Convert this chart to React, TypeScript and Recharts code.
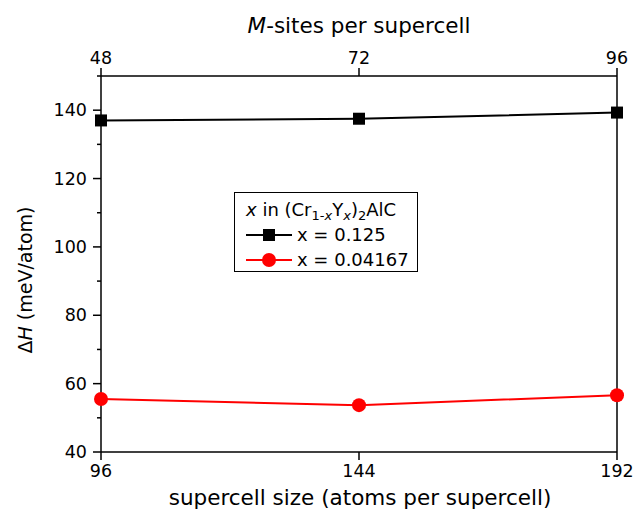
import { Label, Legend, Line, LineChart, XAxis, YAxis } from "recharts";

const atomsPerCell = [96, 144, 192];
const mSites = [48, 72, 96];
const dHx0125 = [137.0, 137.5, 139.3];
const dHx004167 = [55.5, 53.7, 56.6];
const yTicks = [40, 50, 60, 70, 80, 90, 100, 110, 120, 130, 140, 150];

const data = atomsPerCell.map((atoms, i) => ({
  atoms,
  msites: mSites[i],
  a: dHx0125[i],
  b: dHx004167[i],
}));

const FONT = "DejaVu Sans";

const LeftTick = (props: any) => {
  const { x, y, payload } = props;
  const major = payload.value % 20 === 0;
  return (
    <g>
      <line x1={x} x2={x - (major ? 8 : 4)} y1={y} y2={y} stroke="#000" strokeWidth={1.5} />
      {major && (
        <text x={x - 14} y={y} dy={6} textAnchor="end" fontSize={17.5} fontFamily={FONT} fill="#000">
          {payload.value}
        </text>
      )}
    </g>
  );
};

const RightTick = (props: any) => {
  const { x, y, payload } = props;
  const major = payload.value % 20 === 0;
  return <line x1={x} x2={x - (major ? 8 : 4)} y1={y} y2={y} stroke="#000" strokeWidth={1.5} />;
};

const BottomTick = (props: any) => {
  const { x, y, payload } = props;
  return (
    <g>
      <line x1={x} x2={x} y1={y} y2={y + 8} stroke="#000" strokeWidth={1.5} />
      <text x={x} y={y + 25} textAnchor="middle" fontSize={17.5} fontFamily={FONT} fill="#000">
        {payload.value}
      </text>
    </g>
  );
};

const TopTick = (props: any) => {
  const { x, y, payload } = props;
  return (
    <g>
      <line x1={x} x2={x} y1={y} y2={y - 8} stroke="#000" strokeWidth={1.5} />
      <text x={x} y={y - 12} textAnchor="middle" fontSize={17.5} fontFamily={FONT} fill="#000">
        {payload.value}
      </text>
    </g>
  );
};

const SquareDot = (props: any) => {
  const { cx, cy } = props;
  if (cx == null || cy == null) return null;
  return <rect x={cx - 6} y={cy - 6} width={12} height={12} fill="#000" />;
};

const CircleDot = (props: any) => {
  const { cx, cy } = props;
  if (cx == null || cy == null) return null;
  return <circle cx={cx} cy={cy} r={7} fill="#ff0000" />;
};

const subStyle = { fontSize: 13, lineHeight: 0, verticalAlign: "-4px" };

const LegendBox = (props: any) => {
  const { payload } = props;
  return (
    <div
      style={{
        boxSizing: "border-box",
        border: "1.5px solid #000",
        background: "#fff",
        padding: "4px 0 0 11px",
        fontFamily: FONT,
        fontSize: 18,
        lineHeight: "25px",
        color: "#000",
        width: 184,
        height: 80,
        textAlign: "left",
      }}
    >
      <div style={{ whiteSpace: "nowrap" }}>
        <i>x</i> in (Cr<span style={subStyle}>1-<i>x</i></span>Y
        <span style={subStyle}>
          <i>x</i>
        </span>
        )<span style={subStyle}>2</span>AlC
      </div>
      {(payload || []).map((entry: any) => (
        <div key={entry.value} style={{ display: "flex", alignItems: "center", height: 25 }}>
          <svg width={46} height={20} style={{ marginRight: 5 }}>
            <line x1={0} x2={46} y1={10} y2={10} stroke={entry.color} strokeWidth={2} />
            {entry.dataKey === "a" ? (
              <rect x={17} y={4} width={12} height={12} fill={entry.color} />
            ) : (
              <circle cx={23} cy={10} r={7} fill={entry.color} />
            )}
          </svg>
          <span>{entry.value}</span>
        </div>
      ))}
    </div>
  );
};

export default function App() {
  return (
    <div>
      <style>{"body{margin:0}"}</style>
      <LineChart
        width={633}
        height={512}
        data={data}
        margin={{ top: 0, right: 0, bottom: 0, left: 0 }}
        style={{ fontFamily: FONT }}
      >
        <XAxis
          xAxisId="bottom"
          dataKey="atoms"
          type="number"
          domain={[96, 192]}
          ticks={atomsPerCell}
          height={60}
          tickSize={0}
          tickMargin={0}
          tickLine={false}
          tick={<BottomTick />}
          axisLine={{ stroke: "#000", strokeWidth: 1.5 }}
        >
          <Label
            content={() => (
              <text x={360} y={505} textAnchor="middle" fontSize={21.5} fontFamily={FONT} fill="#000">
                supercell size (atoms per supercell)
              </text>
            )}
          />
        </XAxis>
        <XAxis
          xAxisId="top"
          orientation="top"
          dataKey="msites"
          type="number"
          domain={[48, 96]}
          ticks={mSites}
          height={76}
          tickSize={0}
          tickMargin={0}
          tickLine={false}
          tick={<TopTick />}
          axisLine={{ stroke: "#000", strokeWidth: 1.5 }}
        >
          <Label
            content={() => (
              <text x={359} y={33} textAnchor="middle" fontSize={21.5} fontFamily={FONT} fill="#000">
                <tspan fontStyle="italic">M</tspan>-sites per supercell
              </text>
            )}
          />
        </XAxis>
        <YAxis
          yAxisId="left"
          type="number"
          domain={[40, 150]}
          ticks={yTicks}
          interval={0}
          width={101}
          tickSize={0}
          tickMargin={0}
          tickLine={false}
          tick={<LeftTick />}
          axisLine={{ stroke: "#000", strokeWidth: 1.5 }}
        >
          <Label
            content={() => (
              <text
                x={32}
                y={280}
                textAnchor="middle"
                fontSize={19}
                fontFamily={FONT}
                fill="#000"
                transform="rotate(-90 32 280)"
              >
                Δ<tspan fontStyle="italic">H</tspan> (meV/atom)
              </text>
            )}
          />
        </YAxis>
        <YAxis
          yAxisId="right"
          orientation="right"
          type="number"
          domain={[40, 150]}
          ticks={yTicks}
          interval={0}
          width={16}
          tickSize={0}
          tickMargin={0}
          tickLine={false}
          tick={<RightTick />}
          axisLine={{ stroke: "#000", strokeWidth: 1.5 }}
        />
        <Legend
          layout="horizontal"
          verticalAlign="middle"
          align="center"
          itemSorter="dataKey"
          content={<LegendBox />}
          wrapperStyle={{ left: 234, top: 192, width: "auto" }}
        />
        <Line
          xAxisId="bottom"
          yAxisId="left"
          dataKey="a"
          name="x = 0.125"
          stroke="#000"
          strokeWidth={2}
          dot={<SquareDot />}
          activeDot={false}
          isAnimationActive={false}
        />
        <Line
          xAxisId="bottom"
          yAxisId="left"
          dataKey="b"
          name="x = 0.04167"
          stroke="#ff0000"
          strokeWidth={2}
          dot={<CircleDot />}
          activeDot={false}
          isAnimationActive={false}
        />
      </LineChart>
    </div>
  );
}
